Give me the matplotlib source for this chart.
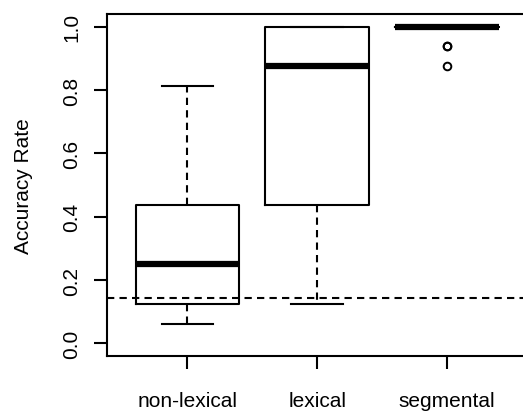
import numpy as np
import matplotlib
matplotlib.use("Agg")
import matplotlib.pyplot as plt

plt.rcParams['font.family'] = ['Liberation Sans', 'DejaVu Sans']

# box statistics
groups = ['non-lexical', 'lexical', 'segmental']
whislo = [0.0625, 0.125, 1.0]
q1 = [0.125, 0.4375, 1.0]
med = [0.25, 0.875, 1.0]
q3 = [0.4375, 1.0, 1.0]
whishi = [0.8125, 1.0, 1.0]
fliers = [[], [], [0.9375, 0.9375, 0.875]]
chance = 1.0 / 7

stats = []
for i in range(len(groups)):
    stats.append(dict(label=groups[i], whislo=whislo[i], q1=q1[i], med=med[i],
                      q3=q3[i], whishi=whishi[i], fliers=fliers[i]))

fig = plt.figure(figsize=(5.23, 4.14), dpi=100)
ax = fig.add_axes([107/523, 1-357/414, (527.6-107)/523, (357-15)/414])

lw = 1.5
ax.bxp(stats, positions=[1, 2, 3], widths=0.8, showfliers=True,
       boxprops=dict(color='black', lw=lw),
       medianprops=dict(color='black', lw=4.5, solid_capstyle='butt'),
       whiskerprops=dict(color='black', lw=lw, linestyle=(0, (3.5, 2.5))),
       capprops=dict(color='black', lw=lw),
       capwidths=0.4,
       flierprops=dict(marker='o', markersize=5.5, markerfacecolor='none',
                       markeredgecolor='black', markeredgewidth=1.4))

ax.axhline(chance, color='black', lw=lw, linestyle=(0, (3.5, 2.5)))

ax.set_xlim(0.38, 3.62)
ax.set_ylim(-0.04, 1.04)
ax.set_yticks([0.0, 0.2, 0.4, 0.6, 0.8, 1.0])
ax.set_yticklabels(['0.0', '0.2', '0.4', '0.6', '0.8', '1.0'], rotation=90, va='center')
ax.set_xticks([1, 2, 3])
ax.set_xticklabels(groups)
ax.tick_params(axis='both', length=9.5, width=lw, labelsize=15, colors='black')
ax.tick_params(axis='x', pad=16)
ax.tick_params(axis='y', pad=9)
ax.set_ylabel('Accuracy Rate', fontsize=15, labelpad=21)
for s in ax.spines.values():
    s.set_linewidth(lw)

fig.savefig('out.png', dpi=100)
